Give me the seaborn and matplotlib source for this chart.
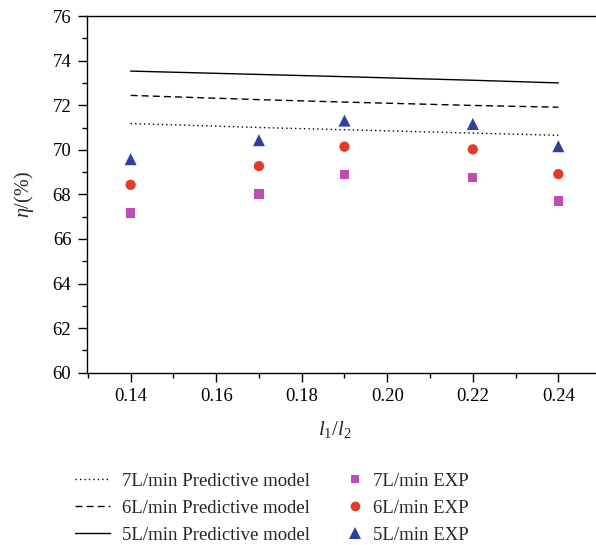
import matplotlib
matplotlib.use("Agg")
import matplotlib.pyplot as plt
import seaborn as sns
import pandas as pd
from matplotlib.ticker import MultipleLocator, FormatStrFormatter
from matplotlib.lines import Line2D

ratio = [0.14, 0.17, 0.19, 0.22, 0.24]
model_7 = [71.18, 71.00, 70.90, 70.75, 70.65]
model_6 = [72.44, 72.25, 72.14, 71.99, 71.91]
model_5 = [73.53, 73.38, 73.28, 73.12, 73.00]
exp_7 = [67.17, 68.02, 68.89, 68.77, 67.70]
exp_6 = [68.43, 69.27, 70.14, 70.02, 68.91]
exp_5 = [69.58, 70.43, 71.31, 71.16, 70.16]

sns.set_theme(style="ticks")
plt.rcParams['font.family'] = ['Liberation Serif', 'DejaVu Serif']
plt.rcParams['mathtext.fontset'] = 'custom'
plt.rcParams['mathtext.rm'] = 'Liberation Serif'
plt.rcParams['mathtext.it'] = 'Liberation Serif:italic'

fig = plt.figure(figsize=(5.96, 5.45), dpi=100)
ax = fig.add_axes([87 / 596, 0.316, 1 - 87 / 596, 0.9706 - 0.316])

models = pd.DataFrame({"x": ratio * 3,
                       "y": model_7 + model_6 + model_5,
                       "s": ["7"] * 5 + ["6"] * 5 + ["5"] * 5})
exps = pd.DataFrame({"x": ratio * 3,
                     "y": exp_7 + exp_6 + exp_5,
                     "s": ["7"] * 5 + ["6"] * 5 + ["5"] * 5})

styles = {"7": (0, (1, 2.2)), "6": (0, (5, 3)), "5": "-"}
for k in ["7", "6", "5"]:
    sns.lineplot(data=models[models.s == k], x="x", y="y", ax=ax, color="black",
                 lw=1.0, linestyle=styles[k], legend=False)

mk = {"7": ("s", "#c04db6", 45), "6": ("o", "#e23b2b", 55), "5": ("^", "#2f3f9f", 75)}
for k in ["7", "6", "5"]:
    m, c, s = mk[k]
    sns.scatterplot(data=exps[exps.s == k], x="x", y="y", ax=ax, marker=m, color=c,
                    s=s, edgecolor="none", legend=False)

ax.set_xlim(0.1298, 0.2488)
ax.set_ylim(60, 76)
ax.xaxis.set_major_locator(MultipleLocator(0.02))
ax.xaxis.set_minor_locator(MultipleLocator(0.01))
ax.yaxis.set_major_locator(MultipleLocator(2))
ax.yaxis.set_minor_locator(MultipleLocator(1))
ax.xaxis.set_major_formatter(FormatStrFormatter('%.2f'))
ax.tick_params(which='major', direction='out', length=6.3, width=1, colors='black',
               labelsize=13.5, pad=5)
ax.tick_params(which='minor', direction='out', length=3.6, width=1, colors='black')
ax.spines["right"].set_visible(False)
for sp in ["left", "bottom", "top"]:
    ax.spines[sp].set_linewidth(1.0)
    ax.spines[sp].set_color("black")

ax.set_xlabel(r"$l_1/l_2$", fontsize=15, labelpad=12)
ax.xaxis.set_label_coords((335 - 87) / 509, -0.13)
ax.set_ylabel(r"$\eta$/(%)", fontsize=14.5, labelpad=12)

fs = 13.5
left_handles = [
    Line2D([], [], color="black", lw=1.0, linestyle=styles["7"]),
    Line2D([], [], color="black", lw=1.0, linestyle=styles["6"]),
    Line2D([], [], color="black", lw=1.0, linestyle=styles["5"]),
]
left_labels = ["7L/min Predictive model", "6L/min Predictive model", "5L/min Predictive model"]
right_handles = [
    Line2D([], [], color=mk["7"][1], marker="s", linestyle="none", markersize=6, markeredgewidth=0),
    Line2D([], [], color=mk["6"][1], marker="o", linestyle="none", markersize=7, markeredgewidth=0),
    Line2D([], [], color=mk["5"][1], marker="^", linestyle="none", markersize=8, markeredgewidth=0),
]
right_labels = ["7L/min EXP", "6L/min EXP", "5L/min EXP"]

leg1 = fig.legend(left_handles, left_labels, frameon=False, fontsize=fs,
                  loc="center left", bbox_to_anchor=(75 / 596, (545 - 508) / 545),
                  handlelength=1.87, labelspacing=0.53, handletextpad=0.64, borderpad=0,
                  borderaxespad=0)
leg2 = fig.legend(right_handles, right_labels, frameon=False, fontsize=fs,
                  loc="center left", bbox_to_anchor=(345.6 / 596, (545 - 508) / 545),
                  handlelength=1.0, labelspacing=0.53, handletextpad=0.46, borderpad=0,
                  borderaxespad=0)

fig.savefig("out.png", dpi=100)
